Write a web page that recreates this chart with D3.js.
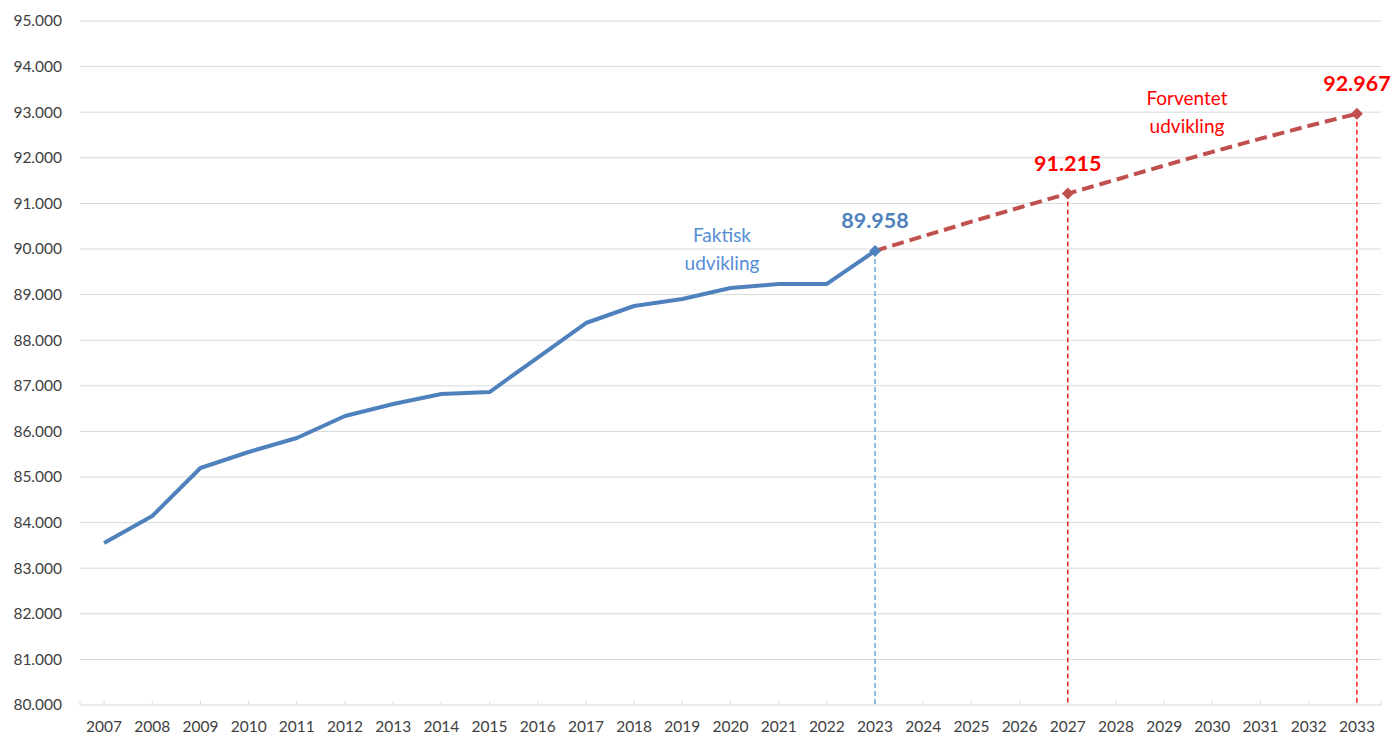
<!DOCTYPE html>
<html>
<head>
<meta charset="utf-8">
<script src="https://cdn.jsdelivr.net/npm/d3@7"></script>
<style>
  body { margin: 0; background: #fff; }
  text { font-family: Lato, "Open Sans", sans-serif; }
</style>
</head>
<body>
<div id="chart"></div>
<script>
const years = d3.range(2007, 2034).map(String)
const actualYears = ["2007","2008","2009","2010","2011","2012","2013","2014","2015","2016","2017","2018","2019","2020","2021","2022","2023"]
const actualValues = [83553, 84145, 85197, 85548, 85855, 86338, 86601, 86820, 86864, 87620, 88377, 88750, 88904, 89145, 89232, 89235, 89958]
const forecastYears = ["2023","2024","2025","2026","2027","2028","2029","2030","2031","2032","2033"]
const forecastValues = [89958, 90280, 90600, 90910, 91215, 91520, 91830, 92130, 92420, 92700, 92967]
const yTicks = d3.range(80000, 95001, 1000)
const highlights = [
  { year: "2023", value: 89958, kind: "actual" },
  { year: "2027", value: 91215, kind: "forecast" },
  { year: "2033", value: 92967, kind: "forecast" }
]

const width = 1393, height = 736
const plotLeft = 80, plotRight = 1381, plotTop = 21, plotBottom = 705

const dk = d3.formatLocale({ decimal: ",", thousands: ".", grouping: [3], currency: ["", " kr."] })
const fmt = dk.format(",.0f")

const x = d3.scalePoint().domain(years).range([plotLeft, plotRight]).padding(0.5)
const y = d3.scaleLinear().domain([80000, 95000]).range([plotBottom, plotTop])

const svg = d3.select("#chart").append("svg")
    .attr("width", width)
    .attr("height", height)

// gridlines
svg.append("g")
    .selectAll("line")
    .data(yTicks)
    .join("line")
    .attr("x1", plotLeft)
    .attr("x2", plotRight)
    .attr("y1", d => y(d))
    .attr("y2", d => y(d))
    .attr("stroke", "#d9d9d9")
    .attr("stroke-width", 1)

// y labels
svg.append("g")
    .selectAll("text")
    .data(yTicks)
    .join("text")
    .attr("x", 62)
    .attr("y", d => y(d))
    .attr("dy", "0.35em")
    .attr("text-anchor", "end")
    .attr("font-size", 15.5)
    .attr("fill", "#404040")
    .text(d => fmt(d))

// x axis ticks (inside)
const tickPos = years.map(d => x(d)).concat([plotLeft, plotRight])
svg.append("g")
    .selectAll("line")
    .data(tickPos)
    .join("line")
    .attr("x1", d => d)
    .attr("x2", d => d)
    .attr("y1", plotBottom - 4)
    .attr("y2", plotBottom)
    .attr("stroke", "#d9d9d9")

svg.append("g")
    .selectAll("text")
    .data(years)
    .join("text")
    .attr("x", d => x(d))
    .attr("y", 727)
    .attr("dy", "0.35em")
    .attr("text-anchor", "middle")
    .attr("font-size", 15.5)
    .attr("fill", "#404040")
    .text(d => d)

// drop lines
svg.append("g")
    .selectAll("line")
    .data(highlights)
    .join("line")
    .attr("x1", d => x(d.year))
    .attr("x2", d => x(d.year))
    .attr("y1", d => y(d.value))
    .attr("y2", plotBottom)
    .attr("stroke", d => d.kind === "actual" ? "#5b9bd5" : "#ff0000")
    .attr("stroke-width", 1.3)
    .attr("stroke-dasharray", "5,3")

const line = d3.line().x(d => x(d[0])).y(d => y(d[1]))

svg.append("path")
    .datum(d3.zip(actualYears, actualValues))
    .attr("fill", "none")
    .attr("stroke", "#4f81bd")
    .attr("stroke-width", 4)
    .attr("stroke-linejoin", "round")
    .attr("d", line)

svg.append("path")
    .datum(d3.zip(forecastYears, forecastValues))
    .attr("fill", "none")
    .attr("stroke", "#c0504d")
    .attr("stroke-width", 4)
    .attr("stroke-dasharray", "12,6")
    .attr("d", line)

// diamond markers
svg.append("g")
    .selectAll("path")
    .data(highlights)
    .join("path")
    .attr("transform", d => `translate(${x(d.year)},${y(d.value)})`)
    .attr("d", "M0,-6L6,0L0,6L-6,0Z")
    .attr("fill", d => d.kind === "actual" ? "#4f81bd" : "#c0504d")

// value labels
svg.append("g")
    .selectAll("text")
    .data(highlights)
    .join("text")
    .attr("x", d => x(d.year))
    .attr("y", d => y(d.value) - 23)
    .attr("text-anchor", "middle")
    .attr("font-size", 21.5)
    .attr("font-weight", "bold")
    .attr("fill", d => d.kind === "actual" ? "#4f81bd" : "#ff0000")
    .text(d => fmt(d.value))

// series annotations
const notes = [
  { lines: ["Faktisk", "udvikling"], cx: 722, cy: 235, color: "#558ed5" },
  { lines: ["Forventet", "udvikling"], cx: 1187, cy: 98, color: "#ff0000" }
]
notes.forEach(n => {
  svg.append("text")
    .attr("x", n.cx)
    .attr("y", n.cy)
    .attr("text-anchor", "middle")
    .attr("font-size", 19)
    .attr("fill", n.color)
    .selectAll("tspan")
    .data(n.lines)
    .join("tspan")
    .attr("x", n.cx)
    .attr("dy", (d, i) => i === 0 ? "0.35em" : "1.5em")
    .text(d => d)
})
</script>
</body>
</html>
